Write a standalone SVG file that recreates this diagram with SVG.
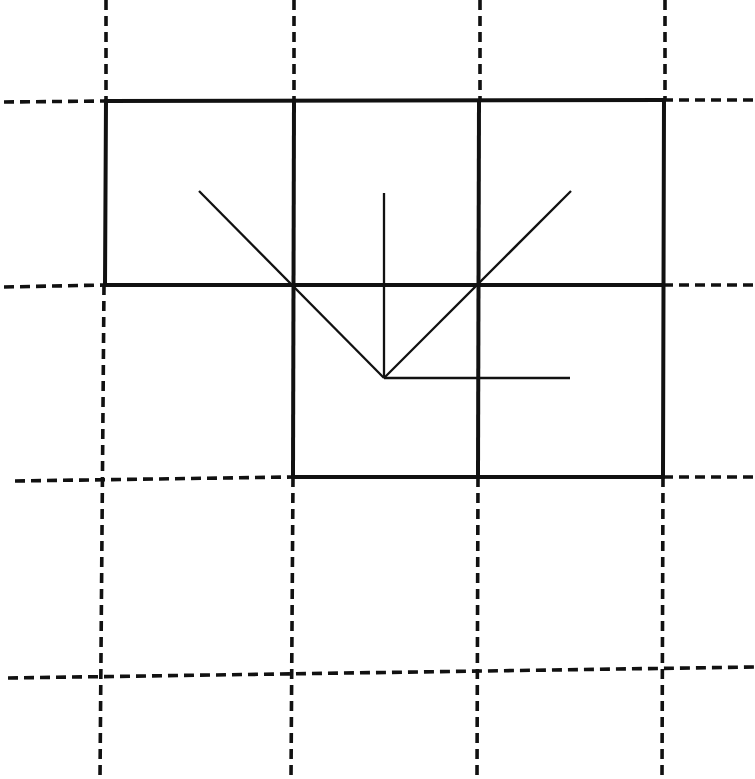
<svg xmlns="http://www.w3.org/2000/svg" width="755" height="779" viewBox="0 0 755 779">
<style>
.s{stroke:#111;stroke-width:4;fill:none;stroke-linecap:square}
.d{stroke:#111;stroke-width:3.6;fill:none;stroke-dasharray:10 6}
.t{stroke:#111;stroke-width:2.3;fill:none}
</style>
<rect width="755" height="779" fill="#fff"/>
<g id="grid-dashed">
<line class="d" x1="106" y1="0" x2="106" y2="101"/>
<line class="d" x1="294" y1="0" x2="294" y2="101"/>
<line class="d" x1="480" y1="0" x2="480" y2="101"/>
<line class="d" x1="665" y1="0" x2="665" y2="101"/>
<line class="d" x1="104" y1="285" x2="100" y2="779"/>
<line class="d" x1="293" y1="477" x2="291" y2="779"/>
<line class="d" x1="478" y1="477" x2="477" y2="779"/>
<line class="d" x1="663" y1="477" x2="662" y2="779"/>
<line class="d" x1="4" y1="102" x2="106" y2="101"/>
<line class="d" x1="663" y1="100" x2="755" y2="100"/>
<line class="d" x1="4" y1="287" x2="105" y2="285"/>
<line class="d" x1="663" y1="285" x2="755" y2="285"/>
<line class="d" x1="15" y1="481" x2="293" y2="477"/>
<line class="d" x1="663" y1="477" x2="755" y2="477"/>
<line class="d" x1="8" y1="678" x2="755" y2="667"/>
</g>
<g id="grid-solid">
<line class="s" x1="106" y1="101" x2="663" y2="100"/>
<line class="s" x1="105" y1="285" x2="663" y2="285"/>
<line class="s" x1="293" y1="477" x2="663" y2="477"/>
<line class="s" x1="106" y1="101" x2="105" y2="285"/>
<line class="s" x1="294" y1="101" x2="293" y2="477"/>
<line class="s" x1="479" y1="101" x2="478" y2="477"/>
<line class="s" x1="664" y1="100" x2="663" y2="477"/>
</g>
<g id="figure">
<line class="t" x1="199" y1="191" x2="384" y2="378"/>
<line class="t" x1="384" y1="378" x2="571" y2="191"/>
<line class="t" x1="384" y1="193" x2="384" y2="378"/>
<line class="t" x1="384" y1="378" x2="570" y2="378"/>
</g>
</svg>
